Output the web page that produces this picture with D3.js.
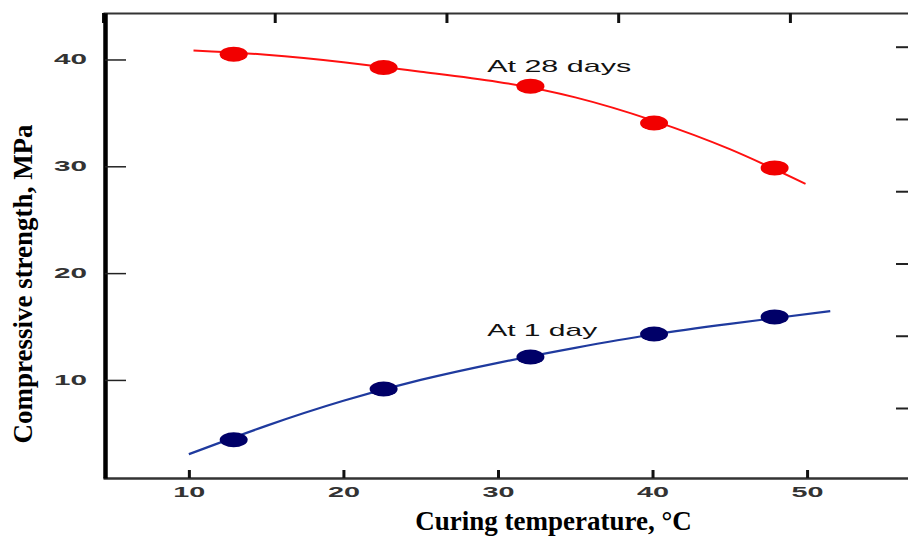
<!DOCTYPE html>
<html>
<head>
<meta charset="utf-8">
<script src="https://cdn.jsdelivr.net/npm/d3@7"></script>
<style>
  html, body { margin: 0; padding: 0; background: #fff; }
  svg { display: block; }
</style>
</head>
<body>
<script>
// ---- data ----
const temps = [12.9, 22.6, 32.1, 40.1, 47.9];            // curing temperature, °C
const strength28 = [40.5, 39.25, 37.5, 34.05, 29.85];    // MPa, at 28 days
const strength1 = [4.4, 9.15, 12.15, 14.3, 15.9];        // MPa, at 1 day
const fit28T = [10.3, 15, 20, 25, 30, 35, 40, 45, 49.9];
const fit28V = [40.85, 40.45, 39.75, 38.85, 37.9, 36.45, 34.3, 31.6, 28.35];
const fit1T = [10.0, 15, 20, 25, 30, 35, 40, 45, 51.5];
const fit1V = [3.05, 5.7, 8.05, 10.0, 11.6, 13.0, 14.25, 15.25, 16.45];
const xTicks = [10, 20, 30, 40, 50];
const yTicks = [10, 20, 30, 40];
const fTicks = [40, 60, 80, 100, 120];                    // top axis, °F
const psiTicks = [1000, 2000, 3000, 4000, 5000, 6000];    // right axis, psi
const labels = [
  { text: "At 28 days", t: 29.3, v: 38.8, len: 144 },
  { text: "At 1 day", t: 29.3, v: 14.15, len: 110 }
];

const W = 908, H = 537;
const svg = d3.select("body").append("svg").attr("width", W).attr("height", H);

const x = d3.scaleLinear().domain([4.444, 56.53]).range([103, 908]);
const y = d3.scaleLinear().domain([0.82, 44.35]).range([478, 13]);
const xF = d3.scaleLinear().domain([40, 32 + 56.53 * 1.8]).range([x(4.444), 908]);
const yPsi = d3.scaleLinear().domain([1000, 6000]).range([408, 46.7]);

const digitFont = "Liberation Sans, Arial, Helvetica, sans-serif";

// bottom axis
const gB = svg.append("g").attr("transform", `translate(0,${y.range()[0]})`)
  .call(d3.axisBottom(x).tickValues(xTicks).tickSize(-8).tickSizeOuter(0).tickPadding(9).tickFormat(d3.format("d")));
gB.select(".domain").attr("stroke", "#333").attr("stroke-width", 2.5);
gB.selectAll(".tick line").attr("stroke", "#111").attr("stroke-width", 3);
gB.selectAll(".tick text").attr("font-family", digitFont).attr("font-size", 14).attr("font-weight", "bold").attr("fill", "#333")
  .attr("textLength", 32).attr("lengthAdjust", "spacingAndGlyphs");

// top axis (°F), labels largely cut off as in the reference
const clip = svg.append("clipPath").attr("id", "topclip");
clip.append("rect").attr("x", 0).attr("y", 4).attr("width", W).attr("height", 30);
const gT = svg.append("g").attr("transform", `translate(0,${y.range()[1]})`)
  .call(d3.axisTop(xF).tickValues(fTicks).tickSize(-10).tickSizeOuter(0).tickPadding(7).tickFormat(d3.format("d")));
gT.select(".domain").attr("stroke", "#333").attr("stroke-width", 2);
gT.selectAll(".tick line").attr("stroke", "#111").attr("stroke-width", 3);
gT.selectAll(".tick text").attr("font-family", digitFont).attr("font-size", 14).attr("fill", "#999")
  .attr("clip-path", "url(#topclip)");
gT.selectAll(".tick text").each(function(d) {
  d3.select(this).attr("textLength", String(d).length * 16).attr("lengthAdjust", "spacingAndGlyphs");
});

// left axis
const gL = svg.append("g").attr("transform", `translate(105,0)`)
  .call(d3.axisLeft(y).tickValues(yTicks).tickSize(-21).tickSizeOuter(0).tickPadding(18).tickFormat(d3.format("d")));
gL.select(".domain").attr("stroke", "#000").attr("stroke-width", 4.5);
gL.selectAll(".tick line").attr("stroke", "#222").attr("stroke-width", 1.5);
gL.selectAll(".tick text").attr("font-family", digitFont).attr("font-size", 14).attr("font-weight", "bold").attr("fill", "#333")
  .attr("textLength", 33).attr("lengthAdjust", "spacingAndGlyphs");

// right axis (psi), only ticks visible
const gR = svg.append("g").attr("transform", `translate(909,0)`)
  .call(d3.axisRight(yPsi).tickValues(psiTicks).tickSize(-13).tickSizeOuter(0).tickFormat(""));
gR.select(".domain").remove();
gR.selectAll(".tick line").attr("stroke", "#222").attr("stroke-width", 2);

// fitted curves
const line = d3.line().x(d => x(d[0])).y(d => y(d[1])).curve(d3.curveNatural);
svg.append("path").datum(d3.zip(fit28T, fit28V)).attr("d", line)
  .attr("fill", "none").attr("stroke", "#ff1010").attr("stroke-width", 2);
svg.append("path").datum(d3.zip(fit1T, fit1V)).attr("d", line)
  .attr("fill", "none").attr("stroke", "#1f3a9e").attr("stroke-width", 2.2);

// data points
svg.append("g").selectAll("ellipse").data(d3.zip(temps, strength28)).join("ellipse")
  .attr("cx", d => x(d[0])).attr("cy", d => y(d[1])).attr("rx", 14).attr("ry", 7.5).attr("fill", "#f20000");
svg.append("g").selectAll("ellipse").data(d3.zip(temps, strength1)).join("ellipse")
  .attr("cx", d => x(d[0])).attr("cy", d => y(d[1])).attr("rx", 14).attr("ry", 7.5).attr("fill", "#000068");

// curve labels
svg.append("g").selectAll("text").data(labels).join("text")
  .attr("x", d => x(d.t)).attr("y", d => y(d.v))
  .attr("font-family", digitFont).attr("font-size", 17).attr("fill", "#111")
  .attr("textLength", d => d.len).attr("lengthAdjust", "spacingAndGlyphs")
  .text(d => d.text);

// axis titles
svg.append("text").attr("x", (415 + 692) / 2).attr("y", 530).attr("text-anchor", "middle")
  .attr("font-family", "Liberation Serif, 'Times New Roman', serif").attr("font-weight", "bold")
  .attr("font-size", 27).attr("fill", "#000").text("Curing temperature, °C");
svg.append("text").attr("transform", "translate(32,284) rotate(-90)").attr("text-anchor", "middle")
  .attr("font-family", "Liberation Serif, 'Times New Roman', serif").attr("font-weight", "bold")
  .attr("font-size", 27).attr("fill", "#000").text("Compressive strength, MPa");
</script>
</body>
</html>
